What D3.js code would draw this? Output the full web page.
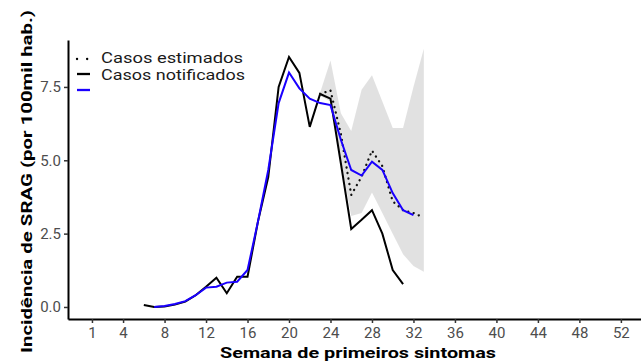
<!DOCTYPE html>
<html><head><meta charset="utf-8">
<script src="https://cdn.jsdelivr.net/npm/d3@7"></script>
<style>body{margin:0;background:#fff}svg{display:block}</style>
</head><body>
<svg id="c" width="641" height="362"></svg>
<script>
const notifWeeks = [6,7,8,9,10,11,12,13,14,15,16,17,18,19,20,21,22,23,24,25,26,27,28,29,30,31];
const notifVals  = [0.07,0.0,0.02,0.08,0.18,0.4,0.69,1.0,0.47,1.03,1.03,2.9,4.43,7.5,8.52,7.98,6.14,7.26,7.1,4.9,2.66,2.97,3.3,2.5,1.26,0.78];
const smoothWeeks = [7,8,9,10,11,12,13,14,15,16,17,18,19,20,21,22,23,24,25,26,27,28,29,30,31,32];
const smoothVals  = [0.0,0.03,0.1,0.2,0.4,0.66,0.69,0.83,0.86,1.26,2.9,4.67,6.95,7.99,7.45,7.1,6.95,6.88,5.7,4.67,4.48,4.95,4.67,3.88,3.3,3.13];
const estWeeks = [23,24,25,26,27,28,29,30,31,32,33];
const estVals  = [7.26,7.38,5.9,3.82,4.44,5.33,4.8,3.6,3.3,3.2,3.05];
const ribbonWeeks = [23,24,25,26,27,28,29,30,31,32,33];
const ribbonLow   = [7.2,7.0,5.0,3.1,3.2,3.9,3.2,2.5,1.8,1.4,1.2];
const ribbonHigh  = [7.3,8.4,6.6,6.0,7.4,7.9,7.0,6.1,6.1,7.5,8.8];
const xTicks = [1,4,8,12,16,20,24,28,32,36,40,44,48,52];
const yTicks = [0,2.5,5,7.5];
const legendLabels = ["Casos estimados","Casos notificados",""];

const svg = d3.select("#c");
const x = d3.scaleLinear().domain([-1.31, 53.94]).range([68, 641]);
const y = d3.scaleLinear().domain([-0.41, 9.1]).range([319, 40]);

// ribbon
const ribbon = ribbonWeeks.map((w,i)=>({w, lo:ribbonLow[i], hi:ribbonHigh[i]}));
svg.append("path").datum(ribbon)
  .attr("d", d3.area().x(d=>x(d.w)).y0(d=>y(d.lo)).y1(d=>y(d.hi)))
  .attr("fill","#c4c4c4").attr("opacity",0.5);

const line = d3.line().x(d=>x(d[0])).y(d=>y(d[1]));
svg.append("path").datum(notifWeeks.map((w,i)=>[w,notifVals[i]]))
  .attr("d",line).attr("fill","none").attr("stroke","#000").attr("stroke-width",2);
svg.append("path").datum(estWeeks.map((w,i)=>[w,estVals[i]]))
  .attr("d",line).attr("fill","none").attr("stroke","#111").attr("stroke-width",2.3)
  .attr("stroke-dasharray","0.1 5.5").attr("stroke-linecap","round");
svg.append("path").datum(smoothWeeks.map((w,i)=>[w,smoothVals[i]]))
  .attr("d",line).attr("fill","none").attr("stroke","#1a00ff").attr("stroke-width",2);

// axes
const gx = svg.append("g").attr("transform","translate(0,319)")
  .call(d3.axisBottom(x).tickValues(xTicks).tickSize(4).tickPadding(4).tickSizeOuter(0));
const gy = svg.append("g").attr("transform","translate(68,0)")
  .call(d3.axisLeft(y).tickValues(yTicks).tickFormat(d3.format(".1f")).tickSize(4).tickPadding(3).tickSizeOuter(0));
[gx,gy].forEach(g=>{
  g.select(".domain").attr("stroke","#000").attr("stroke-width",2);
  g.selectAll(".tick line").attr("stroke","#333").attr("stroke-width",1.5);
  g.selectAll(".tick text").attr("fill","#4d4d4d").style("font-family","Roboto").style("font-size","15px");
});

svg.append("text").attr("x",358).attr("y",358).attr("text-anchor","middle")
  .attr("textLength",276).attr("lengthAdjust","spacingAndGlyphs")
  .style("font-family","Roboto").style("font-weight","bold").style("font-size","15px")
  .text("Semana de primeiros sintomas");
svg.append("text").attr("transform","translate(32,181.5) rotate(-90)").attr("text-anchor","middle")
  .attr("textLength",343).attr("lengthAdjust","spacingAndGlyphs")
  .style("font-family","Roboto").style("font-weight","bold").style("font-size","15px")
  .text("Incidência de SRAG (por 100mil hab.)");

// legend
const lg = svg.append("g");
const rows = [{dash:"0.1 10",color:"#000",ky:59,ty:63},{dash:null,color:"#000",ky:74,ty:79.5},{dash:null,color:"#1a00ff",ky:90,ty:92}];
rows.forEach((r,i)=>{
  lg.append("line").attr("x1",77).attr("x2",90).attr("y1",r.ky).attr("y2",r.ky)
    .attr("stroke",r.color).attr("stroke-width",2.3)
    .attr("stroke-dasharray",r.dash).attr("stroke-linecap",r.dash?"round":"butt");
  if (legendLabels[i]) {
    lg.append("text").attr("x",101).attr("y",r.ty).text(legendLabels[i])
      .attr("textLength", i===0?142:144).attr("lengthAdjust","spacingAndGlyphs")
      .style("font-family","Roboto").style("font-size","14px").attr("fill","#1a1a1a");
  }
});
</script>
</body></html>
